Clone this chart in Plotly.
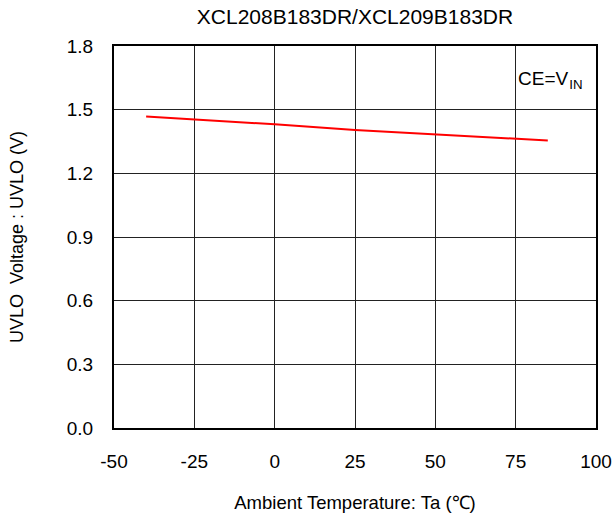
import plotly.graph_objects as go

temps = [-40, -25, 0, 25, 50, 75, 85]
uvlo = [1.468, 1.455, 1.431, 1.404, 1.384, 1.365, 1.355]

x_ticks = [-50, -25, 0, 25, 50, 75, 100]
y_ticks = [0.0, 0.3, 0.6, 0.9, 1.2, 1.5, 1.8]

title_text = "XCL208B183DR/XCL209B183DR"
x_title = "Ambient Temperature: Ta (℃)"
y_title = "UVLO  Voltage : UVLO (V)"
note = "CE=V<sub>&#8202;IN</sub>"

FONT = "Liberation Sans, Arial, sans-serif"

fig = go.Figure()
fig.add_trace(go.Scatter(x=temps, y=uvlo, mode="lines",
                         line=dict(color="#ff0000", width=2), showlegend=False,
                         hoverinfo="skip"))

fig.update_layout(
    width=614, height=518,
    margin=dict(l=114, r=18, t=46, b=90),
    paper_bgcolor="white", plot_bgcolor="white",
    font=dict(family=FONT, color="black", size=19),
    title=dict(text=title_text, xref="paper", x=0.5, xanchor="center",
               yref="container", y=0.967, yanchor="middle",
               font=dict(size=21, family=FONT, color="black")),
    showlegend=False,
)
fig.update_xaxes(range=[-50, 100], tickvals=x_ticks, ticktext=[str(v) for v in x_ticks],
                 showgrid=True, gridcolor="#222222", gridwidth=1,
                 showline=True, linecolor="black", linewidth=2, mirror=True,
                 zeroline=False, ticks="", ticklabelstandoff=15, automargin=False,
                 tickfont=dict(size=19, family=FONT),
                 title=dict(text=x_title, font=dict(size=18.5, family=FONT), standoff=25))
fig.update_yaxes(range=[0, 1.8], tickvals=y_ticks, ticktext=[f"{v:.1f}" for v in y_ticks],
                 showgrid=True, gridcolor="#222222", gridwidth=1,
                 showline=True, linecolor="black", linewidth=2, mirror=True,
                 zeroline=False, ticks="", ticklabelstandoff=15, automargin=False,
                 tickfont=dict(size=19, family=FONT),
                 title=dict(text=y_title, font=dict(size=18, family=FONT), standoff=38))

fig.add_annotation(x=75, y=1.64, xref="x", yref="y", xanchor="left", yanchor="middle",
                   text=note, showarrow=False, align="left",
                   width=74, height=40, bgcolor="white",
                   font=dict(size=19, family=FONT, color="black"))

fig.write_html("out.html", config={"displayModeBar": False},
               post_script="document.body.style.margin='0';document.body.style.overflow='hidden';")
